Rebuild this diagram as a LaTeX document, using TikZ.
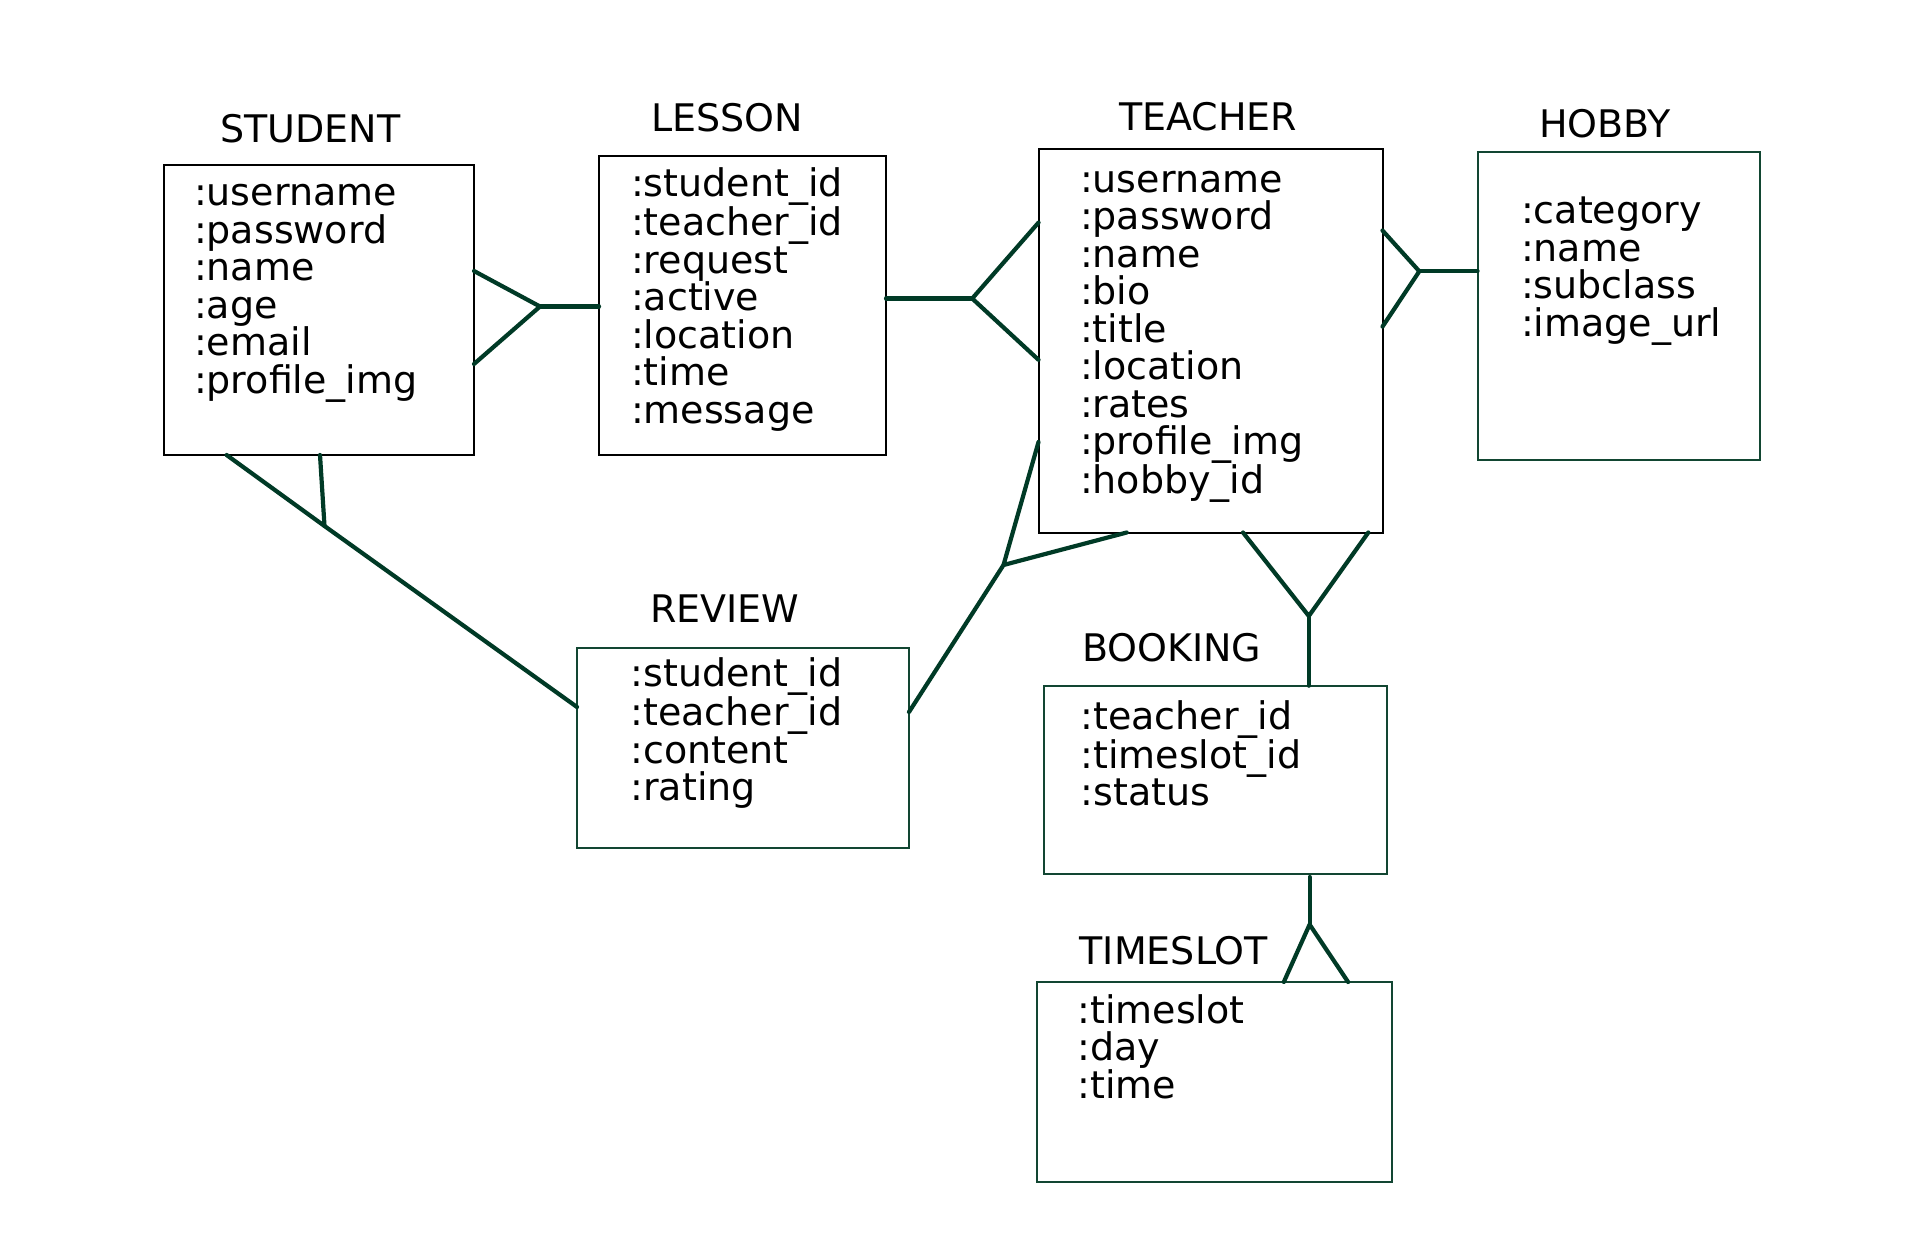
\documentclass[tikz,border=0pt]{standalone}
\usepackage{fontspec}
\setmainfont{DejaVu Sans}
\definecolor{conn}{RGB}{0,58,38}
\definecolor{gbox}{RGB}{18,70,50}
\begin{document}
\begin{tikzpicture}[x=1pt,y=-1pt,
  every node/.style={inner sep=0pt,outer sep=0pt,font=\fontsize{38}{37.5}\selectfont},
  blackbox/.style={draw=black,line width=2pt,rectangle,anchor=north west},
  greenbox/.style={draw=gbox,line width=2pt,rectangle,anchor=north west},
  attrs/.style={anchor=base west,align=left},
  title/.style={anchor=base west},
  link/.style={draw=conn,line width=4.2pt,line cap=round,line join=round}]
\useasboundingbox (0,0) rectangle (1919,1239);
\fill[white] (0,0) rectangle (1919,1239);
% boxes
\node[blackbox,minimum width=310.5,minimum height=290] (student) at (163.5,165) {};
\node[blackbox,minimum width=287,minimum height=299] (lesson) at (599,156) {};
\node[blackbox,minimum width=344,minimum height=383.5] (teacher) at (1038.5,149) {};
\node[greenbox,minimum width=282.5,minimum height=308] (hobby) at (1477.5,151.5) {};
\node[greenbox,minimum width=332,minimum height=200] (review) at (577,648) {};
\node[greenbox,minimum width=343.2,minimum height=188.3] (booking) at (1043.5,685.7) {};
\node[greenbox,minimum width=355.5,minimum height=200.3] (timeslot) at (1036.5,982) {};
% titles
\node[title] (tstudent) at (220.5,142.3) {STUDENT};
\node[title] (tlesson) at (651.3,131.3) {LESSON};
\node[title] (tteacher) at (1119,130.5) {TEACHER};
\node[title] (thobby) at (1539,137.6) {HOBBY};
\node[title] (treview) at (650.3,622.7) {REVIEW};
\node[title] (tbooking) at (1082,661.5) {BOOKING};
\node[title] (ttimeslot) at (1079.7,964) {TIMESLOT};
% attributes (anchor = baseline of the last line)
\node[attrs] (astudent) at (194,393.1) {:username\\:password\\:name\\:age\\:email\\:profile\_img};
\node[attrs] (alesson) at (631,423) {:student\_id\\:teacher\_id\\:request\\:active\\:location\\:time\\:message};
\node[attrs] (ateacher) at (1080,493.5) {:username\\:password\\:name\\:bio\\:title\\:location\\:rates\\:profile\_img\\:hobby\_id};
\node[attrs] (ahobby) at (1521,336) {:category\\:name\\:subclass\\:image\_url};
\node[attrs] (areview) at (630.5,800.5) {:student\_id\\:teacher\_id\\:content\\:rating};
\node[attrs] (abooking) at (1080.5,805.7) {:teacher\_id\\:timeslot\_id\\:status};
\node[attrs] (atimeslot) at (1077.5,1098.3) {:timeslot\\:day\\:time};
% junctions
\coordinate (j1) at (540,306.5);
\coordinate (j2) at (972.2,298.5);
\coordinate (j3) at (1419.3,271.3);
\coordinate (j4) at (324.5,526);
\coordinate (j5) at (1003.5,565);
\coordinate (j6) at (1308.8,616);
\coordinate (j7) at (1309.6,924.5);
% student - lesson
\draw[link] (student.east |- 0,271) -- (j1) -- (student.east |- 0,364);
\draw[link] (j1) -- (j1 -| lesson.west);
% lesson - teacher
\draw[link] (j2 -| lesson.east) -- (j2);
\draw[link] (teacher.west |- 0,222.6) -- (j2) -- (teacher.west |- 0,359.8);
% teacher - hobby
\draw[link] (teacher.east |- 0,230.5) -- (j3) -- (teacher.east |- 0,326.6);
\draw[link] (j3) -- (j3 -| hobby.west);
% student - review
\draw[link] (student.south -| 226.6,0) -- (j4) -- (student.south -| 320,0);
\draw[link] (j4) -- (review.west |- 0,707);
% teacher - review
\draw[link] (teacher.west |- 0,442) -- (j5) -- (teacher.south -| 1126.7,0);
\draw[link] (j5) -- (review.east |- 0,712);
% teacher - booking
\draw[link] (teacher.south -| 1243,0) -- (j6) -- (teacher.south -| 1368.3,0);
\draw[link] (j6) -- (j6 |- booking.north);
% booking - timeslot
\draw[link] ([yshift=-3pt]j7 |- booking.south) -- (j7);
\draw[link] (timeslot.north -| 1283.8,0) -- (j7) -- (timeslot.north -| 1348.1,0);
\end{tikzpicture}
\end{document}
